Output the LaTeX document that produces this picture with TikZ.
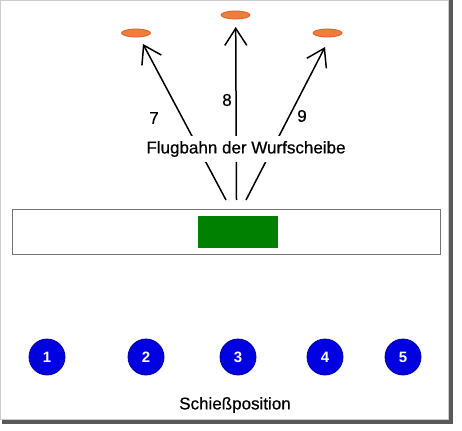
\documentclass[tikz,border=0pt]{standalone}
\usepackage{fontspec}
\setmainfont{Liberation Sans}
\usetikzlibrary{arrows.meta,shapes.geometric}
\definecolor{disccol}{RGB}{240,125,60}
\definecolor{discedge}{RGB}{215,95,40}
\definecolor{standgreen}{RGB}{0,128,0}
\definecolor{posblue}{RGB}{0,0,225}
\definecolor{posedge}{RGB}{0,0,150}
\begin{document}
\begin{tikzpicture}[x=1pt,y=-1pt,
  discshape/.style={ellipse, fill=disccol, draw=discedge, line width=0.8pt, minimum width=29pt, minimum height=8pt, inner sep=0pt},
  posdot/.style={circle, fill=posblue, draw=posedge, line width=0.8pt, minimum size=36pt, inner sep=0pt, text=white, font=\fontsize{15}{16}\selectfont\bfseries},
  lbl/.style={font=\fontsize{17}{19}\selectfont\addfontfeature{FakeBold=0.6}},
  flight/.style={line width=1.5pt, -{Straight Barb[length=17pt,width=22pt,line width=1.5pt]}},
]
\useasboundingbox (0,0) rectangle (462,430);
\fill[white] (0,0) rectangle (462,430);
\draw[black!20, line width=1pt] (0.5,0.5) rectangle (448.5,419.5);
\draw[black!65, line width=4pt] (451,0) -- (451,422) -- (2,422);

% discs
\node[discshape] (d7) at (136,33) {};
\node[discshape] (d8) at (235.5,15) {};
\node[discshape] (d9) at (327.5,33) {};

% stand
\node[draw=black!55, line width=1pt, minimum width=428pt, minimum height=45pt, inner sep=0pt] (bar) at (226,231.5) {};
\node[fill=standgreen, minimum width=80pt, minimum height=32pt, inner sep=0pt] (green) at (238,232) {};

% flight paths
\coordinate (s7) at (226,200);
\coordinate (s8) at (236.5,200);
\coordinate (s9) at (246,200);
\coordinate (t7) at (143,44);
\coordinate (t8) at (235.7,27);
\coordinate (t9) at (325,47);
\draw[flight] (s7) -- (t7);
\draw[flight] (s8) -- (t8);
\draw[flight] (s9) -- (t9);

\node[lbl, fill=white, inner xsep=1pt, inner ysep=5pt] (title) at (246,149) {Flugbahn der Wurfscheibe};
\node[lbl] (n7) at (154,118) {7};
\node[lbl] (n8) at (227,100) {8};
\node[lbl] (n9) at (302,116) {9};

% shooting positions
\node[posdot] (p1) at (47,357) {1};
\node[posdot] (p2) at (146,357) {2};
\node[posdot] (p3) at (238,357) {3};
\node[posdot] (p4) at (325,357) {4};
\node[posdot] (p5) at (403,357) {5};
\node[lbl] (shoot) at (235,405) {Schießposition};
\end{tikzpicture}
\end{document}
